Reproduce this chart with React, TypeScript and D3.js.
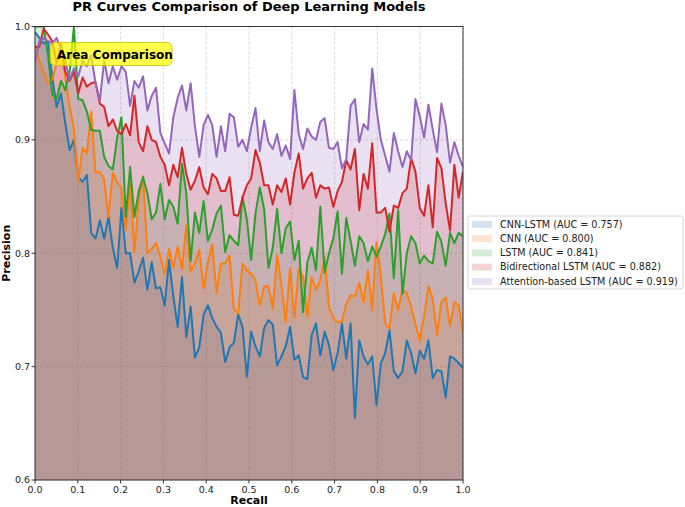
import * as d3 from "d3";

const models = [
  "CNN-LSTM (AUC = 0.757)",
  "CNN (AUC = 0.800)",
  "LSTM (AUC = 0.841)",
  "Bidirectional LSTM (AUC = 0.882)",
  "Attention-based LSTM (AUC = 0.919)",
];
const colors = ["#1f77b4", "#ff7f0e", "#2ca02c", "#d62728", "#9467bd"];

const cnnLstm = [
  0.995, 0.99, 0.985, 0.987, 0.955, 0.929, 0.941, 0.915, 0.891, 0.9,
  0.867, 0.863, 0.869, 0.818, 0.813, 0.829, 0.813, 0.832, 0.805, 0.787,
  0.84, 0.8, 0.8, 0.774, 0.784, 0.796, 0.768, 0.792, 0.769, 0.77,
  0.754, 0.794, 0.762, 0.735, 0.779, 0.726, 0.753, 0.708, 0.717, 0.746,
  0.754, 0.743, 0.735, 0.73, 0.704, 0.717, 0.721, 0.746, 0.735, 0.691,
  0.731, 0.718, 0.709, 0.734, 0.741, 0.737, 0.701, 0.709, 0.718, 0.735,
  0.706, 0.71, 0.691, 0.689, 0.728, 0.738, 0.71, 0.731, 0.719, 0.697,
  0.712, 0.738, 0.707, 0.738, 0.655, 0.723, 0.709, 0.702, 0.709, 0.666,
  0.703, 0.712, 0.732, 0.696, 0.69, 0.696, 0.723, 0.712, 0.694, 0.714,
  0.707, 0.723, 0.69, 0.697, 0.696, 0.673, 0.709, 0.707, 0.703, 0.699,
];
const cnn = [
  0.984, 0.97, 0.96, 0.95, 0.953, 0.968, 0.985, 0.955, 0.93, 0.91,
  0.863, 0.893, 0.888, 0.925, 0.871, 0.872, 0.865, 0.832, 0.871, 0.863,
  0.857, 0.82, 0.862, 0.801, 0.847, 0.868, 0.8, 0.804, 0.809, 0.797,
  0.782, 0.804, 0.787, 0.806, 0.786, 0.825, 0.784, 0.791, 0.803, 0.769,
  0.792, 0.808, 0.765, 0.791, 0.791, 0.798, 0.751, 0.747, 0.791, 0.785,
  0.782, 0.776, 0.754, 0.771, 0.771, 0.751, 0.798, 0.773, 0.739, 0.787,
  0.743, 0.786, 0.78, 0.744, 0.779, 0.768, 0.776, 0.797, 0.753, 0.743,
  0.739, 0.74, 0.755, 0.763, 0.762, 0.774, 0.757, 0.785, 0.75, 0.81,
  0.779, 0.738, 0.734, 0.765, 0.75, 0.768, 0.765, 0.753, 0.738, 0.723,
  0.744, 0.771, 0.76, 0.728, 0.757, 0.761, 0.736, 0.757, 0.754, 0.73,
];
const lstm = [
  1.0, 1.0, 1.0, 0.975, 0.94, 0.936, 0.952, 0.944, 0.96, 1.0,
  0.936, 0.935, 0.925, 0.909, 0.908, 0.908, 0.885, 0.877, 0.874, 0.902,
  0.92, 0.832, 0.876, 0.832, 0.855, 0.867, 0.853, 0.83, 0.836, 0.861,
  0.83, 0.847, 0.841, 0.826, 0.879, 0.853, 0.793, 0.836, 0.818, 0.846,
  0.811, 0.821, 0.835, 0.842, 0.801, 0.816, 0.811, 0.807, 0.85, 0.83,
  0.794, 0.835, 0.858, 0.839, 0.787, 0.805, 0.839, 0.8, 0.822, 0.828,
  0.794, 0.811, 0.748, 0.792, 0.805, 0.785, 0.841, 0.783, 0.8, 0.813,
  0.837, 0.782, 0.831, 0.811, 0.789, 0.815, 0.809, 0.793, 0.806, 0.797,
  0.806, 0.817, 0.835, 0.778, 0.838, 0.764, 0.8, 0.815, 0.809, 0.791,
  0.798, 0.793, 0.791, 0.819, 0.81, 0.789, 0.818, 0.809, 0.818, 0.815,
];
const biLstm = [
  0.982, 0.982, 0.998, 0.993, 0.987, 0.968, 0.985, 0.96, 0.952, 0.96,
  0.941, 0.955, 0.947, 0.95, 0.951, 0.932, 0.929, 0.912, 0.918, 0.908,
  0.905, 0.914, 0.904, 0.939, 0.898, 0.89, 0.912, 0.9, 0.898, 0.885,
  0.878, 0.86, 0.878, 0.867, 0.893, 0.87, 0.856, 0.864, 0.876, 0.858,
  0.852, 0.87, 0.866, 0.855, 0.855, 0.867, 0.834, 0.833, 0.849, 0.86,
  0.866, 0.891, 0.88, 0.86, 0.86, 0.843, 0.86, 0.854, 0.866, 0.843,
  0.871, 0.888, 0.857, 0.866, 0.871, 0.849, 0.86, 0.857, 0.858, 0.841,
  0.855, 0.863, 0.882, 0.874, 0.892, 0.838, 0.87, 0.857, 0.897, 0.836,
  0.836, 0.84, 0.819, 0.842, 0.84, 0.853, 0.857, 0.884, 0.872, 0.84,
  0.833, 0.86, 0.823, 0.884, 0.875, 0.844, 0.82, 0.878, 0.849, 0.872,
];
const attnLstm = [
  0.968, 0.987, 0.99, 0.987, 0.985, 0.99, 0.979, 0.97, 0.953, 0.963,
  0.956, 0.97, 0.965, 0.975, 0.95, 0.935, 0.97, 0.95, 0.965, 0.953,
  0.965, 0.96, 0.93, 0.952, 0.946, 0.956, 0.926, 0.939, 0.946, 0.906,
  0.897, 0.888, 0.92, 0.937, 0.948, 0.926, 0.95, 0.912, 0.885, 0.913,
  0.922, 0.913, 0.885, 0.912, 0.89, 0.923, 0.92, 0.894, 0.9, 0.89,
  0.911, 0.928, 0.89, 0.917, 0.898, 0.892, 0.905, 0.886, 0.895, 0.883,
  0.944, 0.905, 0.892, 0.91, 0.903, 0.9, 0.916, 0.919, 0.893, 0.892,
  0.898, 0.875, 0.883, 0.93, 0.936, 0.898, 0.914, 0.909, 0.963, 0.927,
  0.9, 0.886, 0.872, 0.906, 0.89, 0.876, 0.89, 0.882, 0.936, 0.921,
  0.902, 0.931, 0.909, 0.889, 0.932, 0.913, 0.88, 0.898, 0.886, 0.876,
];
const series = [cnnLstm, cnn, lstm, biLstm, attnLstm];

const xTicks = [0, 0.1, 0.2, 0.3, 0.4, 0.5, 0.6, 0.7, 0.8, 0.9, 1.0];
const yTicks = [0.6, 0.7, 0.8, 0.9, 1.0];

const width = 685;
const height = 507;
const left = 35;
const right = 463;
const top = 26.5;
const bottom = 480;
const font = "'DejaVu Sans', sans-serif";

export default function App() {
  const x = d3.scaleLinear([0, 1], [left, right]);
  const y = d3.scaleLinear([0.6, 1.0], [bottom, top]);
  const recall = (i: number, n: number) => i / (n - 1);

  const line = (d: number[]) =>
    d3.line<number>((_, i) => x(recall(i, d.length)), (v) => y(v))(d) ?? "";
  const area = (d: number[]) =>
    d3
      .area<number>()
      .x((_, i) => x(recall(i, d.length)))
      .y0(bottom)
      .y1((v) => y(v))(d) ?? "";

  return (
    <>
      <style>{"body{margin:0}"}</style>
      <svg width={width} height={height} style={{ display: "block" }} fontFamily={font}>
        <rect width={width} height={height} fill="#fff" />
        <defs>
          <clipPath id="plot">
            <rect x={left} y={top} width={right - left} height={bottom - top} />
          </clipPath>
        </defs>

        {/* grid */}
        <g stroke="#b0b0b0" strokeWidth={0.8} strokeDasharray="3,2" opacity={0.6}>
          {xTicks.map((t) => (
            <line key={"gx" + t} x1={x(t)} x2={x(t)} y1={top} y2={bottom} />
          ))}
          {yTicks.map((t) => (
            <line key={"gy" + t} x1={left} x2={right} y1={y(t)} y2={y(t)} />
          ))}
        </g>

        <g clipPath="url(#plot)">
          {series.map((d, i) => (
            <path key={"a" + i} d={area(d)} fill={colors[i]} fillOpacity={0.2} />
          ))}
          {series.map((d, i) => (
            <path
              key={"l" + i}
              d={line(d)}
              fill="none"
              stroke={colors[i]}
              strokeWidth={2}
              strokeLinejoin="round"
            />
          ))}
        </g>

        {/* annotation */}
        <rect x={50} y={42.5} width={122} height={23} rx={5} fill="#ffff00" fillOpacity={0.7} stroke="#c8c000" strokeWidth={0.8} />
        <text x={57} y={59} fontSize={12} fontWeight="bold" fill="#000">
          Area Comparison
        </text>

        {/* axes frame */}
        <rect x={left} y={top} width={right - left} height={bottom - top} fill="none" stroke="#333" strokeWidth={1} />

        {xTicks.map((t) => (
          <g key={"tx" + t}>
            <line x1={x(t)} x2={x(t)} y1={bottom} y2={bottom + 3.5} stroke="#333" />
            <text x={x(t)} y={493} fontSize={9.5} textAnchor="middle" fill="#222">
              {t.toFixed(1)}
            </text>
          </g>
        ))}
        {yTicks.map((t) => (
          <g key={"ty" + t}>
            <line x1={left - 3.5} x2={left} y1={y(t)} y2={y(t)} stroke="#333" />
            <text x={left - 5} y={y(t) + 3.4} fontSize={9.5} textAnchor="end" fill="#222">
              {t.toFixed(1)}
            </text>
          </g>
        ))}

        <text x={(left + right) / 2} y={504} fontSize={11} fontWeight="bold" textAnchor="middle">
          Recall
        </text>
        <text
          transform={`translate(10, ${(top + bottom) / 2}) rotate(-90)`}
          fontSize={11}
          fontWeight="bold"
          textAnchor="middle"
        >
          Precision
        </text>
        <text x={(left + right) / 2} y={11} fontSize={13} fontWeight="bold" textAnchor="middle">
          PR Curves Comparison of Deep Learning Models
        </text>

        {/* legend */}
        <rect x={468} y={216} width={215} height={73} rx={2} fill="#fff" stroke="#ccc" strokeWidth={0.8} />
        {models.map((m, i) => (
          <g key={m} transform={`translate(472, ${224 + i * 14.3})`}>
            <rect x={0} y={-3.2} width={20} height={7} fill={colors[i]} fillOpacity={0.2} />
            <text x={28} y={3.5} fontSize={9.6} fill="#222">
              {m}
            </text>
          </g>
        ))}
      </svg>
    </>
  );
}
